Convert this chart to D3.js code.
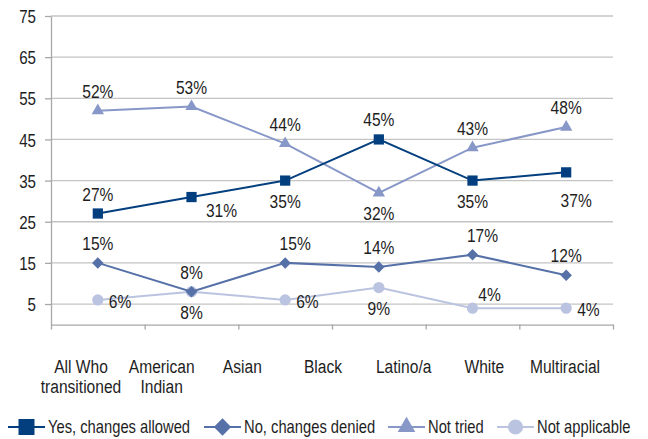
<!DOCTYPE html>
<html>
<head>
<meta charset="utf-8">
<script src="https://cdn.jsdelivr.net/npm/d3@7/dist/d3.min.js"></script>
<style>
  html, body { margin: 0; padding: 0; background: #fff; }
  svg { display: block; }
  text { font-family: "Liberation Sans Narrow", "Arial Narrow", "Liberation Sans", Arial, sans-serif; fill: #1e1e1e; }
</style>
</head>
<body>
<svg id="chart" width="648" height="439"></svg>
<script>
// ---- data ----
const categories = [["All Who", "transitioned"], ["American", "Indian"], ["Asian"], ["Black"], ["Latino/a"], ["White"], ["Multiracial"]];
const yTicks = [5, 15, 25, 35, 45, 55, 65, 75];
const seriesNames = ["Yes, changes allowed", "No, changes denied", "Not tried", "Not applicable"];
const yesAllowed = [27, 31, 35, 45, 35, 37];
const noDenied = [15, 8, 15, 14, 17, 12];
const notTried = [52, 53, 44, 32, 43, 48];
const notApplicable = [6, 8, 6, 9, 4, 4];
// label placement keys (t = above, b = below, r = right, diagonal variants)
const yesPlace = ["t", "br", "b", "t", "b", "bb"];
const noPlace = ["t", "t", "tR", "t", "tR", "t"];
const triedPlace = ["t", "t", "t", "b", "t", "t"];
const naPlace = ["r", "b", "r", "b", "tr", "r"];

const series = [
  { name: seriesNames[0], values: yesAllowed, place: yesPlace, color: "#033f7f", shape: "square" },
  { name: seriesNames[1], values: noDenied, place: noPlace, color: "#5670a8", shape: "diamond" },
  { name: seriesNames[2], values: notTried, place: triedPlace, color: "#8797c7", shape: "triangle" },
  { name: seriesNames[3], values: notApplicable, place: naPlace, color: "#bac4e0", shape: "circle" }
];

// ---- layout ----
const L = 51, R = 613, T = 16, B = 324.6;
const SX = 0.82; // horizontal condensing of text (narrow font look)
const svg = d3.select("#chart");

// place a condensed text at (x, y)
function narrowText(parent, x, y, str, anchor, fs) {
  return parent.append("text")
    .attr("transform", `translate(${x},${y}) scale(${SX},1)`)
    .attr("text-anchor", anchor || "start")
    .attr("font-size", fs || 18)
    .text(str);
}

const y = d3.scaleLinear().domain([0, 75]).range([B, T]);
const nPts = yesAllowed.length;
const xPt = d3.scaleBand().domain(d3.range(nPts)).range([L, R]);
const xc = i => xPt(i) + xPt.bandwidth() / 2;
const xEdge = d3.scaleLinear().domain([0, nPts]).range([L, R]);
const xLab = d3.scalePoint().domain(d3.range(categories.length)).range([81, 565]);

// gridlines
svg.append("g").selectAll("line").data(yTicks).join("line")
  .attr("x1", L).attr("x2", R)
  .attr("y1", d => y(d)).attr("y2", d => y(d))
  .attr("stroke", "#c4c4c4").attr("stroke-width", 1.3);

// y axis
const yAxis = svg.append("g").attr("transform", `translate(${L},0)`)
  .call(d3.axisLeft(y).tickValues(yTicks).tickSize(6).tickSizeOuter(0).tickPadding(14));
yAxis.attr("font-family", null).attr("font-size", null);
yAxis.select(".domain").attr("stroke", "#a8a8a8").attr("stroke-width", 1.3);
yAxis.selectAll(".tick line").attr("stroke", "#a8a8a8").attr("stroke-width", 1.3);
yAxis.selectAll(".tick text")
  .attr("font-size", 18.5).attr("fill", "#1e1e1e")
  .attr("x", -15 / SX).attr("dy", "0.36em")
  .attr("transform", `scale(${SX},1)`);

// x axis (band edges)
const xAxis = svg.append("g").attr("transform", `translate(0,${B})`)
  .call(d3.axisBottom(xEdge).tickValues(d3.range(nPts + 1)).tickSize(5).tickSizeOuter(0).tickFormat(""));
xAxis.select(".domain").attr("stroke", "#a8a8a8").attr("stroke-width", 1.3);
xAxis.selectAll(".tick line").attr("stroke", "#a8a8a8").attr("stroke-width", 1.3);

// category labels
const labG = svg.append("g");
categories.forEach((lines, i) => {
  lines.forEach((t, j) => narrowText(labG, xLab(i), 373 + j * 20, t, "middle", 19));
});

// marker symbols
const symbolRhomb = {
  draw(ctx, size) {
    const r = Math.sqrt(size / 2);
    ctx.moveTo(0, -r); ctx.lineTo(r, 0); ctx.lineTo(0, r); ctx.lineTo(-r, 0); ctx.closePath();
  }
};
function symbolPath(shape, size) {
  const map = { square: d3.symbolSquare, diamond: symbolRhomb, triangle: d3.symbolTriangle, circle: d3.symbolCircle };
  return d3.symbol().type(map[shape]).size(size)();
}
const markerSize = { square: 105, diamond: 66, triangle: 66, circle: 100 };

const line = d3.line().x((d, i) => xc(i)).y(d => y(d));
const offsets = {
  t: { dx: 0, dy: -13, anchor: "middle" },
  tR: { dx: 10, dy: -13, anchor: "middle" },
  b: { dx: 0, dy: 27, anchor: "middle" },
  bb: { dx: 10, dy: 35, anchor: "middle" },
  r: { dx: 11, dy: 8, anchor: "start" },
  br: { dx: 30, dy: 20, anchor: "middle" },
  tr: { dx: 17, dy: -7, anchor: "middle" }
};

// draw series in back-to-front order
[3, 2, 1, 0].forEach(k => {
  const s = series[k];
  const g = svg.append("g");
  g.append("path").attr("d", line(s.values)).attr("fill", "none")
    .attr("stroke", s.color).attr("stroke-width", 2);
  g.selectAll("path.m").data(s.values).join("path").attr("class", "m")
    .attr("d", symbolPath(s.shape, markerSize[s.shape]))
    .attr("transform", (d, i) => `translate(${xc(i)},${y(d)})`)
    .attr("fill", s.color);
});
// data labels on top
series.forEach(s => {
  const g = svg.append("g");
  s.values.forEach((d, i) => {
    const o = offsets[s.place[i]];
    narrowText(g, xc(i) + o.dx, y(d) + o.dy, d + "%", o.anchor, 19);
  });
});

// legend
const legendPos = [8, 204, 388, 497];
const legendLineW = 37;
const legendTextGap = 40;
const legSize = { square: 256, diamond: 150, triangle: 135, circle: 180 };
const lg = svg.append("g").attr("transform", "translate(0,427)");
series.forEach((s, k) => {
  const x0 = legendPos[k];
  lg.append("line").attr("x1", x0).attr("x2", x0 + legendLineW).attr("y1", 0).attr("y2", 0)
    .attr("stroke", s.color).attr("stroke-width", 2);
  lg.append("path").attr("d", symbolPath(s.shape, legSize[s.shape]))
    .attr("transform", `translate(${x0 + legendLineW / 2},0)`).attr("fill", s.color);
  narrowText(lg, x0 + legendTextGap, 6, s.name, "start", 18);
});
</script>
</body>
</html>
